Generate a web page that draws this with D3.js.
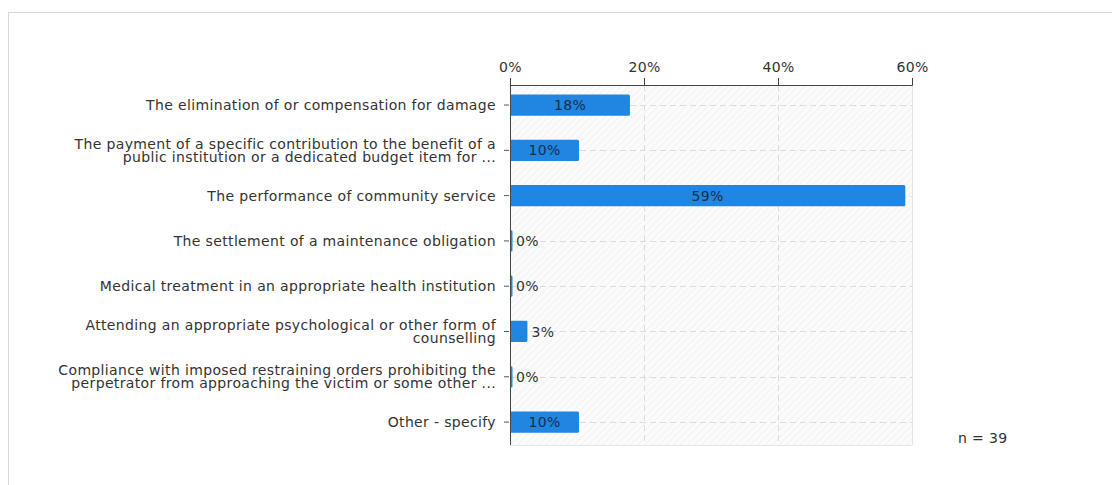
<!DOCTYPE html>
<html>
<head>
<meta charset="utf-8">
<script src="https://cdn.jsdelivr.net/npm/d3@7"></script>
<style>
  html, body { margin: 0; padding: 0; background: #fff; }
  svg { display: block; font-family: "DejaVu Sans", Verdana, sans-serif; }
  text { letter-spacing: 0.35px; }
</style>
</head>
<body>
<svg id="chart" width="1112" height="485"></svg>
<script>
const categories = [
  ["The elimination of or compensation for damage"],
  ["The payment of a specific contribution to the benefit of a", "public institution or a dedicated budget item for ..."],
  ["The performance of community service"],
  ["The settlement of a maintenance obligation"],
  ["Medical treatment in an appropriate health institution"],
  ["Attending an appropriate psychological or other form of", "counselling"],
  ["Compliance with imposed restraining orders prohibiting the", "perpetrator from approaching the victim or some other ..."],
  ["Other - specify"]
];
const values = [17.9, 10.3, 59.0, 0, 0, 2.6, 0, 10.3];
const valueLabels = ["18%", "10%", "59%", "0%", "0%", "3%", "0%", "10%"];
const tickValues = [0, 20, 40, 60];
const nLabel = "n = 39";

const svg = d3.select("#chart");
const FS = 14;

// frame
svg.append("rect").attr("x", 8.5).attr("y", 12.5).attr("width", 1200).attr("height", 600)
  .attr("fill", "#fff").attr("stroke", "#d8d8d8").attr("stroke-width", 1);

const pL = 510, pR = 912, pT = 85, pB = 445;
const x = d3.scaleLinear().domain([0, 60]).range([pL, pR]);
const y = d3.scaleBand().domain(d3.range(categories.length)).range([82.4, 444.7]).paddingInner(0.53).paddingOuter(0.265);

// hatch pattern
const defs = svg.append("defs");
const pat = defs.append("pattern").attr("id", "hatch").attr("patternUnits", "userSpaceOnUse")
  .attr("width", 5).attr("height", 5).attr("patternTransform", "rotate(45)");
pat.append("rect").attr("width", 5).attr("height", 5).attr("fill", "#fbfbfb");
pat.append("line").attr("x1", 0).attr("y1", 0).attr("x2", 0).attr("y2", 5)
  .attr("stroke", "#ececec").attr("stroke-width", 1.2);

svg.append("rect").attr("x", pL).attr("y", pT).attr("width", pR - pL).attr("height", pB - pT)
  .attr("fill", "url(#hatch)");

// vertical grid
svg.append("g").selectAll("line").data(tickValues.slice(1)).join("line")
  .attr("x1", d => x(d) + 0.5).attr("x2", d => x(d) + 0.5)
  .attr("y1", pT).attr("y2", pB)
  .attr("stroke", "#dcdcdc").attr("stroke-dasharray", "6,4");

// horizontal grid at bar centers
svg.append("g").selectAll("line").data(d3.range(categories.length)).join("line")
  .attr("x1", pL).attr("x2", pR)
  .attr("y1", d => Math.round(y(d) + y.bandwidth() / 2) + 0.5)
  .attr("y2", d => Math.round(y(d) + y.bandwidth() / 2) + 0.5)
  .attr("stroke", "#dcdcdc").attr("stroke-dasharray", "6,4");

// plot borders
svg.append("line").attr("x1", pL).attr("x2", pR).attr("y1", pB + 0.5).attr("y2", pB + 0.5)
  .attr("stroke", "#e4e4e4");
svg.append("line").attr("x1", pR + 0.5).attr("x2", pR + 0.5).attr("y1", pT).attr("y2", pB)
  .attr("stroke", "#e4e4e4");

// bars
svg.append("g").selectAll("rect").data(values).join("rect")
  .attr("x", pL)
  .attr("y", (d, i) => y(i))
  .attr("width", d => Math.max(2.5, x(d) - pL))
  .attr("height", y.bandwidth())
  .attr("rx", 1.5)
  .attr("fill", "#2185e2");

// value labels
svg.append("g").selectAll("text").data(values).join("text")
  .attr("x", d => d >= 8 ? (pL + x(d)) / 2 : Math.max(x(d), pL + 2) + 4)
  .attr("y", (d, i) => y(i) + y.bandwidth() / 2)
  .attr("dy", "0.36em")
  .attr("text-anchor", d => d >= 8 ? "middle" : "start")
  .attr("font-size", FS)
  .attr("fill", d => d >= 8 ? "#13314f" : "#333")
  .text((d, i) => valueLabels[i]);

// top axis
const xAxis = d3.axisTop(x).tickValues(tickValues).tickFormat(d => d + "%").tickSize(7).tickSizeOuter(7);
const gx = svg.append("g").attr("transform", `translate(0,${pT})`).call(xAxis);
gx.select(".domain").attr("stroke", "#444");
gx.selectAll(".tick line").attr("stroke", "#444");
gx.selectAll(".tick text").attr("font-size", FS).attr("fill", "#333")
  .attr("font-family", "DejaVu Sans, Verdana, sans-serif").attr("y", -18).attr("dy", "0.36em");

// left axis
const yAxis = d3.axisLeft(y).tickSize(5).tickSizeOuter(0).tickFormat("");
const gy = svg.append("g").attr("transform", `translate(${pL},0)`).call(yAxis);
gy.select(".domain").attr("stroke", "#444").attr("d", `M0.5,${pT}V${pB}`);
gy.selectAll(".tick line").attr("stroke", "#555").attr("x2", -5).attr("transform", null);
gy.selectAll(".tick").attr("transform", d => `translate(-1,${y(d) + y.bandwidth() / 2})`);

// category labels
const lab = svg.append("g").selectAll("text").data(categories).join("text")
  .attr("text-anchor", "end")
  .attr("font-size", FS)
  .attr("fill", "#333");
lab.each(function(lines, i) {
  const cy = y(i) + y.bandwidth() / 2;
  const lh = 13;
  const t = d3.select(this);
  lines.forEach((ln, k) => {
    t.append("tspan").attr("x", pL - 14)
      .attr("y", cy + (k - (lines.length - 1) / 2) * lh)
      .attr("dy", "0.36em").text(ln);
  });
});

// n label
svg.append("text").attr("x", 958).attr("y", 443).attr("font-size", FS).attr("fill", "#333").text(nLabel);
</script>
</body>
</html>
